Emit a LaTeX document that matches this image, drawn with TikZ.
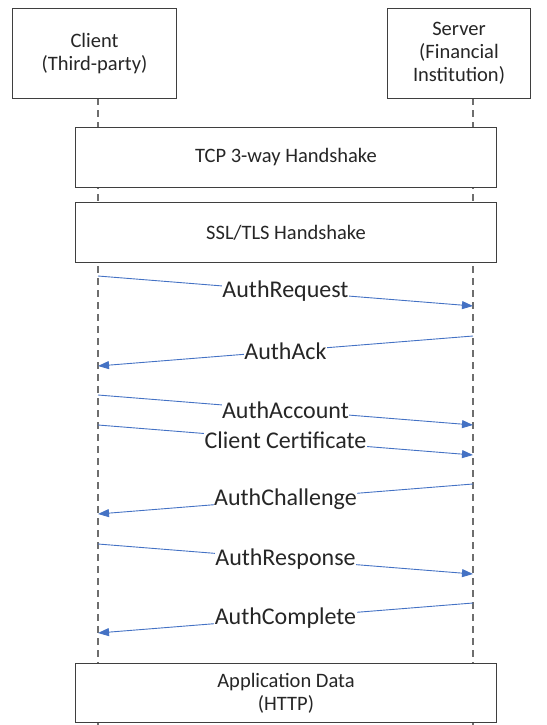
\documentclass[tikz,border=0pt]{standalone}
\usepackage{fontspec}
\setmainfont{Carlito}
\usetikzlibrary{arrows.meta}
\definecolor{boxline}{HTML}{3F3F3F}
\definecolor{lifeline}{HTML}{6E6E6E}
\definecolor{msgblue}{HTML}{4472C4}
\definecolor{txt}{HTML}{262626}
\tikzset{
  actor/.style={draw=boxline, line width=1pt, fill=white, align=center,
    text=txt, font=\fontsize{20.5}{23}\selectfont, anchor=north west, inner sep=0pt},
  phase/.style={draw=boxline, line width=1pt, fill=white, align=center,
    text=txt, font=\fontsize{20.5}{23}\selectfont, anchor=north west, inner sep=0pt},
  lifeln/.style={draw=lifeline, line width=1.6pt, dash pattern=on 7pt off 5pt},
  msg/.style={draw=msgblue, line width=0.9pt,
    -{Triangle[length=11pt,width=8pt]}},
  msglabel/.style={fill=white, text=txt, inner sep=0.5pt,
    font=\fontsize{24}{26}\selectfont}
}
\begin{document}
\begin{tikzpicture}[x=1pt,y=-1pt]
\useasboundingbox (0,0) rectangle (546,725);
% lifelines drawn first, boxes sit on top
\coordinate (ctop) at (98,98);
\coordinate (cbot) at (98,725);
\coordinate (stop) at (473,98);
\coordinate (sbot) at (473,725);
\draw[lifeln] (ctop) -- (cbot);
\draw[lifeln] (stop) -- (sbot);
% participants
\node[actor, minimum width=164pt, minimum height=90pt] (client) at (12,8)
  {Client\\(Third-party)};
\node[actor, minimum width=143pt, minimum height=90pt] (server) at (387,8)
  {Server\\(Financial\\Institution)};
% phase boxes spanning both lifelines
\node[phase, minimum width=421pt, minimum height=60pt] (tcp) at (75,127)
  {TCP 3-way Handshake};
\node[phase, minimum width=421pt, minimum height=60pt] (tls) at (75,202)
  {SSL/TLS Handshake};
\node[phase, minimum width=421pt, minimum height=59pt] (app) at (75,663)
  {Application Data\\(HTTP)};
% message endpoints on the lifelines
\coordinate (c1) at (98,276);  \coordinate (s1) at (473,306);
\coordinate (s2) at (473,336); \coordinate (c2) at (98,366);
\coordinate (c3) at (98,395);  \coordinate (s3) at (473,425);
\coordinate (c4) at (98,425);  \coordinate (s4) at (473,455);
\coordinate (s5) at (473,484); \coordinate (c5) at (98,514);
\coordinate (c6) at (98,544);  \coordinate (s6) at (473,574);
\coordinate (s7) at (473,603); \coordinate (c7) at (98,633);
% messages
\draw[msg] (c1) -- node[msglabel] {AuthRequest} (s1);
\draw[msg] (s2) -- node[msglabel] {AuthAck} (c2);
\draw[msg] (c3) -- node[msglabel] {AuthAccount} (s3);
\draw[msg] (c4) -- node[msglabel] {Client Certificate} (s4);
\draw[msg] (s5) -- node[msglabel] {AuthChallenge} (c5);
\draw[msg] (c6) -- node[msglabel] {AuthResponse} (s6);
\draw[msg] (s7) -- node[msglabel] {AuthComplete} (c7);
\end{tikzpicture}
\end{document}
